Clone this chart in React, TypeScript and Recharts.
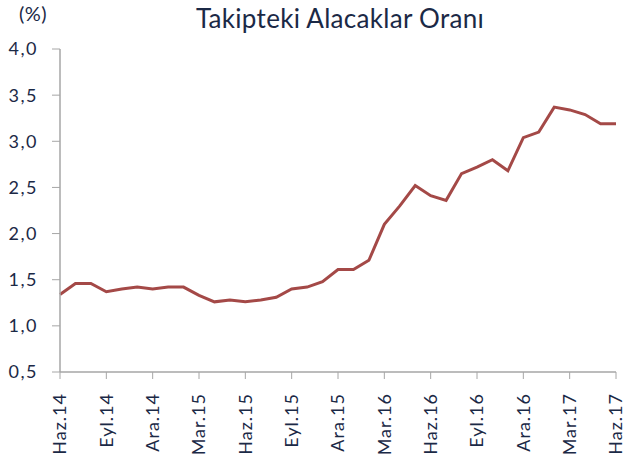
import { LineChart, Line, XAxis, YAxis } from "recharts";

const months = [
  "Haz.14", "Tem.14", "Ağu.14", "Eyl.14", "Eki.14", "Kas.14", "Ara.14",
  "Oca.15", "Şub.15", "Mar.15", "Nis.15", "May.15", "Haz.15", "Tem.15",
  "Ağu.15", "Eyl.15", "Eki.15", "Kas.15", "Ara.15", "Oca.16", "Şub.16",
  "Mar.16", "Nis.16", "May.16", "Haz.16", "Tem.16", "Ağu.16", "Eyl.16",
  "Eki.16", "Kas.16", "Ara.16", "Oca.17", "Şub.17", "Mar.17", "Nis.17",
  "May.17", "Haz.17"
];

// takipteki alacaklar orani (%)
const ratio = [
  1.34, 1.46, 1.46, 1.37, 1.4, 1.42, 1.4, 1.42, 1.42, 1.33, 1.26, 1.28,
  1.26, 1.28, 1.31, 1.4, 1.42, 1.48, 1.61, 1.61, 1.71, 2.1, 2.3, 2.52,
  2.41, 2.36, 2.65, 2.72, 2.8, 2.68, 3.04, 3.1, 3.37, 3.34, 3.29, 3.19, 3.19
];

const yTicks = [0.5, 1, 1.5, 2, 2.5, 3, 3.5, 4];

const data = months.map((m, i) => ({ label: m, value: ratio[i] }));

const FONT = "Lato, 'Open Sans', sans-serif";
const TEXT = "#1b2946";
const AXIS = "#a6a6a6";

function MonthTick(props: any) {
  const { x, y, payload } = props;
  const ty = y + 12;
  return (
    <text
      x={x}
      y={ty}
      dy="0.36em"
      transform={`rotate(-90, ${x}, ${ty})`}
      textAnchor="end"
      fill={TEXT}
      fontSize={18}
      fontFamily={FONT}
      letterSpacing={1}
    >
      {payload.value}
    </text>
  );
}

export default function App() {
  return (
    <div style={{ position: "absolute", left: 0, top: 0, width: 635, height: 459, background: "#fff" }}>
      <div
        style={{
          position: "absolute",
          left: 0,
          width: 635,
          top: 2,
          textAlign: "center",
          paddingLeft: 45,
          boxSizing: "border-box",
          fontFamily: FONT,
          fontSize: 26,
          color: TEXT,
          letterSpacing: 0.3
        }}
      >
        Takipteki Alacaklar Oranı
      </div>
      <div
        style={{
          position: "absolute",
          left: 19,
          top: 1,
          fontFamily: FONT,
          fontSize: 20,
          color: TEXT,
          letterSpacing: 0.5
        }}
      >
        (%)
      </div>
      <LineChart
        width={635}
        height={459}
        data={data}
        margin={{ top: 49, right: 19, left: 0, bottom: 0 }}
      >
        <XAxis
          dataKey="label"
          interval={2}
          height={87}
          stroke={AXIS}
          tickSize={7}
          tickLine={{ stroke: AXIS }}
          axisLine={{ stroke: AXIS, strokeWidth: 1.5 }}
          tick={<MonthTick />}
        />
        <YAxis
          domain={[0.5, 4]}
          ticks={yTicks}
          width={60}
          stroke={AXIS}
          tickSize={8}
          tickMargin={14}
          axisLine={{ stroke: AXIS, strokeWidth: 1.5 }}
          tick={{ fill: TEXT, fontSize: 18, fontFamily: FONT, letterSpacing: 1.5 }}
          tickFormatter={(v: number) => v.toFixed(1).replace(".", ",")}
        />
        <Line
          type="linear"
          dataKey="value"
          stroke="#a44947"
          strokeWidth={3}
          dot={false}
          isAnimationActive={false}
        />
      </LineChart>
    </div>
  );
}
